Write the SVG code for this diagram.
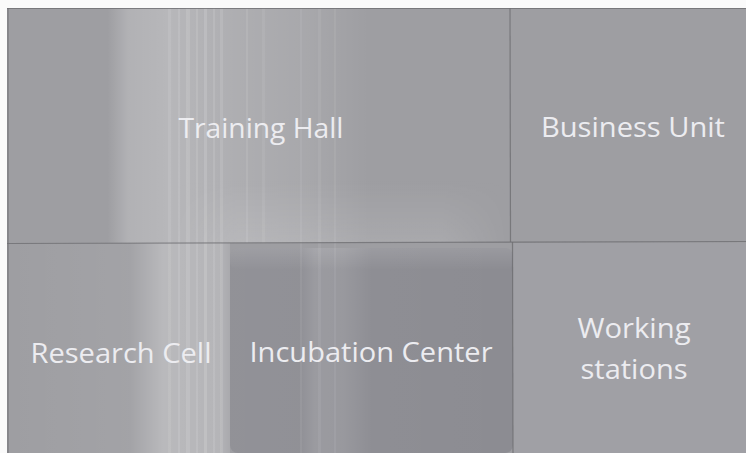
<svg xmlns="http://www.w3.org/2000/svg" width="746" height="453" viewBox="0 0 746 453">
<defs>
<style>
.lbl{font-family:"Open Sans","Noto Sans","Liberation Sans",sans-serif;font-size:28px;fill:#ececf0;text-anchor:middle}
.wall{stroke:#6e6e72;stroke-width:1.2;fill:none;opacity:0.8}
.streak{fill:#ffffff}
</style>
<linearGradient id="topGlow" x1="0" y1="0" x2="1" y2="0">
<stop offset="0" stop-color="#fff" stop-opacity="0"/>
<stop offset="0.2" stop-color="#fff" stop-opacity="0"/>
<stop offset="0.24" stop-color="#fff" stop-opacity="0.2"/>
<stop offset="0.32" stop-color="#fff" stop-opacity="0.26"/>
<stop offset="0.45" stop-color="#fff" stop-opacity="0.17"/>
<stop offset="0.6" stop-color="#fff" stop-opacity="0.1"/>
<stop offset="0.72" stop-color="#fff" stop-opacity="0"/>
<stop offset="1" stop-color="#fff" stop-opacity="0"/>
</linearGradient>
<linearGradient id="botGlow" x1="0" y1="0" x2="1" y2="0">
<stop offset="0" stop-color="#fff" stop-opacity="0"/>
<stop offset="0.55" stop-color="#fff" stop-opacity="0.05"/>
<stop offset="0.7" stop-color="#fff" stop-opacity="0.28"/>
<stop offset="0.95" stop-color="#fff" stop-opacity="0.24"/>
<stop offset="1" stop-color="#fff" stop-opacity="0.12"/>
</linearGradient>
<linearGradient id="incGlow" x1="0" y1="0" x2="1" y2="0">
<stop offset="0" stop-color="#fff" stop-opacity="0.05"/>
<stop offset="0.25" stop-color="#fff" stop-opacity="0.04"/>
<stop offset="0.3" stop-color="#fff" stop-opacity="0.13"/>
<stop offset="0.4" stop-color="#fff" stop-opacity="0.11"/>
<stop offset="0.5" stop-color="#fff" stop-opacity="0.02"/>
<stop offset="1" stop-color="#fff" stop-opacity="0"/>
</linearGradient>
<linearGradient id="incTop" x1="0" y1="0" x2="0" y2="1">
<stop offset="0" stop-color="#fff" stop-opacity="0.12"/>
<stop offset="1" stop-color="#fff" stop-opacity="0"/>
</linearGradient>
<linearGradient id="hband" x1="0" y1="0" x2="0" y2="1">
<stop offset="0" stop-color="#fff" stop-opacity="0"/>
<stop offset="1" stop-color="#fff" stop-opacity="0.12"/>
</linearGradient>
<linearGradient id="hfade" x1="0" y1="0" x2="1" y2="0">
<stop offset="0" stop-color="#fff" stop-opacity="0"/>
<stop offset="0.2" stop-color="#fff" stop-opacity="1"/>
<stop offset="0.8" stop-color="#fff" stop-opacity="1"/>
<stop offset="1" stop-color="#fff" stop-opacity="0"/>
</linearGradient>
<mask id="hmask"><rect x="170" y="180" width="340" height="63" fill="url(#hfade)"/></mask>
</defs>
<rect x="0" y="0" width="746" height="453" fill="#fafafa"/>
<rect x="7" y="8" width="739" height="445" fill="#9e9ea2"/>

<g id="training-hall">
<rect x="7" y="8" width="503" height="235" fill="url(#topGlow)"/>
<rect x="170" y="180" width="340" height="63" fill="url(#hband)" mask="url(#hmask)"/>
<text class="lbl" x="261" y="138" textLength="165" lengthAdjust="spacingAndGlyphs">Training Hall</text>
</g>

<g id="business-unit">
<text class="lbl" x="633" y="137" textLength="184" lengthAdjust="spacingAndGlyphs">Business Unit</text>
</g>

<g id="research-cell">
<rect x="7" y="243" width="223" height="210" fill="url(#botGlow)"/>
<text class="lbl" x="121" y="363" textLength="181" lengthAdjust="spacingAndGlyphs">Research Cell</text>
</g>

<g id="incubation-center">
<rect x="230" y="248" width="283" height="205" rx="8" fill="#8c8c92"/>
<rect x="230" y="248" width="283" height="205" rx="8" fill="url(#incGlow)"/>
<rect x="230" y="248" width="283" height="22" rx="8" fill="url(#incTop)"/>
<text class="lbl" x="371" y="362" textLength="243" lengthAdjust="spacingAndGlyphs">Incubation Center</text>
</g>

<g id="working-stations">
<rect x="513" y="243" width="233" height="210" fill="#a0a0a5"/>
<text class="lbl" x="634" y="338" textLength="113" lengthAdjust="spacingAndGlyphs">Working</text>
<text class="lbl" x="634" y="379" textLength="107" lengthAdjust="spacingAndGlyphs">stations</text>
</g>

<g id="streaks" opacity="0.35">
<rect class="streak" x="168" y="8" width="3" height="445" opacity="0.25"/>
<rect class="streak" x="178" y="8" width="2" height="445" opacity="0.3"/>
<rect class="streak" x="186" y="8" width="4" height="445" opacity="0.35"/>
<rect class="streak" x="196" y="8" width="2" height="445" opacity="0.3"/>
<rect class="streak" x="204" y="8" width="3" height="445" opacity="0.4"/>
<rect class="streak" x="213" y="8" width="2" height="445" opacity="0.3"/>
<rect class="streak" x="220" y="8" width="3" height="445" opacity="0.3"/>
<rect class="streak" x="246" y="8" width="2" height="235" opacity="0.25"/>
<rect class="streak" x="262" y="8" width="3" height="235" opacity="0.2"/>
<rect class="streak" x="300" y="8" width="2" height="445" opacity="0.2"/>
<rect class="streak" x="318" y="8" width="3" height="445" opacity="0.2"/>
<rect class="streak" x="334" y="8" width="2" height="445" opacity="0.2"/>
</g>

<g id="walls">
<line class="wall" x1="7" y1="8.5" x2="746" y2="8.5"/>
<line class="wall" x1="8" y1="8" x2="8" y2="453"/>
<line class="wall" x1="7" y1="243.5" x2="746" y2="241.5"/>
<line class="wall" x1="510" y1="8" x2="510.5" y2="242"/>
<line class="wall" x1="512.5" y1="242" x2="513" y2="453"/>
</g>
</svg>
